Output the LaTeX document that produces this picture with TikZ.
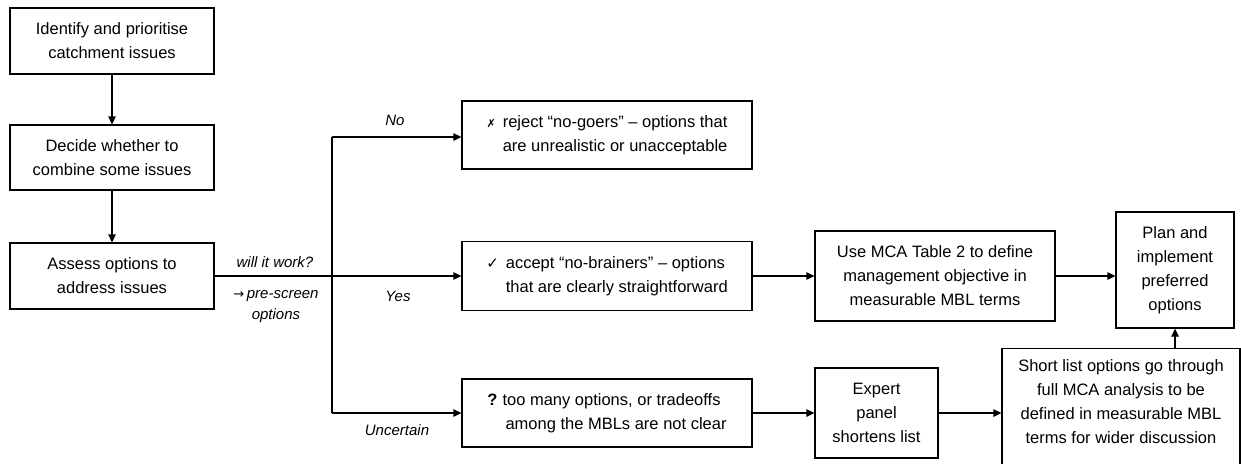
\documentclass[tikz,border=0pt]{standalone}
\usepackage{fontspec}
\setmainfont{Liberation Sans}
\newfontfamily\symfont{DejaVu Sans}
\usetikzlibrary{arrows.meta}
\begin{document}
\begin{tikzpicture}[x=1pt,y=-1pt,
  box/.style={draw=black,line width=1.3pt,inner sep=0pt,align=center,
    font=\fontsize{16.5}{24}\selectfont},
  lbl/.style={inner sep=0pt,align=center,font=\fontsize{15}{21}\selectfont\itshape},
  conn/.style={line width=1.3pt},
  arr/.style={line width=1.3pt,-{Triangle[length=8pt,width=7.5pt]}}]
\useasboundingbox (0,0) rectangle (1241,463);
\clip (0,0) rectangle (1241,463);
% left column
\node[box,minimum width=204pt,minimum height=66pt] (ident) at (112,41) {Identify and prioritise\\catchment issues};
\node[box,minimum width=204pt,minimum height=65pt] (decide) at (112,157.5) {Decide whether to\\combine some issues};
\node[box,minimum width=204pt,minimum height=66pt] (assess) at (112,276) {Assess options to\\address issues};
% option boxes
\node[box,minimum width=290pt,minimum height=68pt] (no) at (607,135)
  {\begin{tabular}{@{}l@{\hspace{7pt}}l@{}}{\symfont\fontsize{11}{12}\selectfont ✗} & reject “no-goers” – options that\\ & are unrealistic or unacceptable\end{tabular}};
\node[box,minimum width=290pt,minimum height=69pt] (yes) at (607,276)
  {\begin{tabular}{@{}l@{\hspace{7pt}}l@{}}{\symfont\fontsize{15}{12}\selectfont ✓} & accept “no-brainers” – options\\ & that are clearly straightforward\end{tabular}};
\node[box,minimum width=290pt,minimum height=68pt] (unc) at (607,413)
  {\begin{tabular}{@{}l@{\hspace{5pt}}l@{}}\textbf{?} & too many options, or tradeoffs\\ & \hspace*{3pt}among the MBLs are not clear\end{tabular}};
% right part
\node[box,minimum width=240pt,minimum height=90pt] (mca) at (935,276) {Use MCA Table 2 to define\\management objective in\\measurable MBL terms};
\node[box,minimum width=118pt,minimum height=116pt] (plan) at (1175,270) {Plan and\\implement\\preferred\\options};
\node[box,minimum width=123pt,minimum height=90pt] (expert) at (876.5,413) {Expert\\panel\\shortens list};
\node[box,minimum width=238pt,minimum height=130pt,anchor=north] (short) at (1121,348) {};
\node[inner sep=0pt,align=center,font=\fontsize{16.5}{24}\selectfont] (shorttxt) at (1121,402)
  {Short list options go through\\full MCA analysis to be\\defined in measurable MBL\\terms for wider discussion};
% connectors
\coordinate (top) at (332,137);
\coordinate (bot) at (332,413);
\draw[arr] (ident) -- (decide);
\draw[arr] (decide) -- (assess);
\draw[arr] (assess.east) -- (yes.west);
\draw[conn] (top) -- (bot);
\draw[arr] (top) -- (no.west |- top);
\draw[arr] (bot) -- (unc.west);
\draw[arr] (yes.east) -- (mca.west);
\draw[arr] (mca.east) -- (plan.west |- mca.east);
\draw[arr] (unc.east) -- (expert.west);
\draw[arr] (expert.east) -- (short.west |- expert.east);
\draw[arr] (plan.south |- short.north) -- (plan.south);
% labels
\node[lbl] (work) at (275,262) {will it work?};
\node[lbl] (pre) at (276,307) {{\upshape\symfont\fontsize{13}{21}\selectfont →}\,pre-screen\\options};
\node[lbl] (nolbl) at (395,120) {No};
\node[lbl] (yeslbl) at (398,296) {Yes};
\node[lbl] (unclbl) at (397,430) {Uncertain};
\end{tikzpicture}
\end{document}
